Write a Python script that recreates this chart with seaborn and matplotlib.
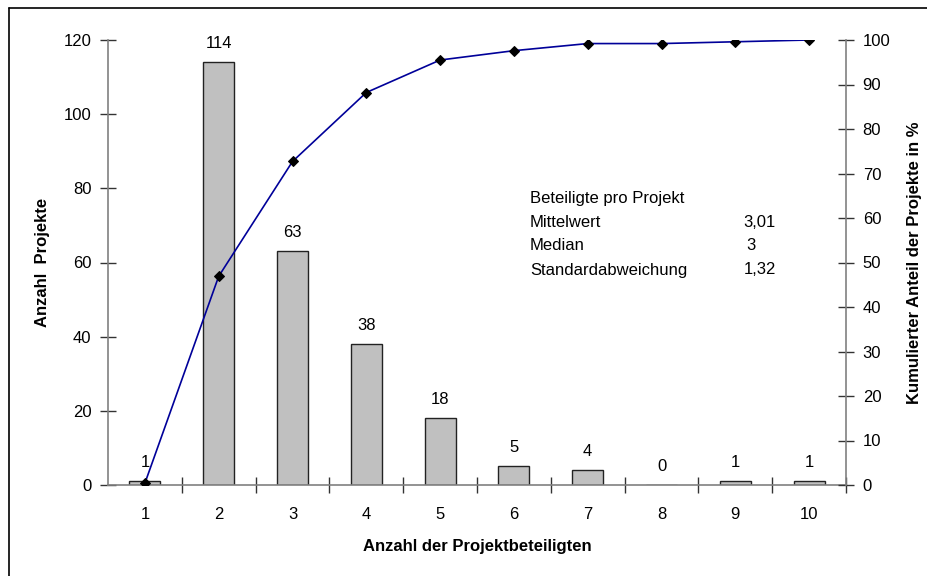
import numpy as np
import pandas as pd
import matplotlib
matplotlib.use("Agg")
import matplotlib.pyplot as plt
import seaborn as sns
from matplotlib.lines import Line2D

# Data
beteiligte = [1, 2, 3, 4, 5, 6, 7, 8, 9, 10]
anzahl_projekte = [1, 114, 63, 38, 18, 5, 4, 0, 1, 1]
kumuliert_pct = [0.4, 46.9, 72.7, 88.2, 95.5, 97.6, 99.2, 99.2, 99.6, 100.0]

stat_labels = ["Mittelwert", "Median", "Standardabweichung"]
stat_values = ["3,01", "3", "1,32"]

sns.set_theme(style="white")
plt.rcParams['font.family'] = ['Liberation Sans', 'DejaVu Sans']
plt.rcParams['text.color'] = 'black'
plt.rcParams['axes.labelcolor'] = 'black'
plt.rcParams['xtick.color'] = 'black'
plt.rcParams['ytick.color'] = 'black'

df = pd.DataFrame({"beteiligte": beteiligte, "anzahl": anzahl_projekte, "kum": kumuliert_pct})

fig = plt.figure(figsize=(9.28, 5.76), dpi=100)
ax = fig.add_axes([108 / 928, 91 / 576, 738 / 928, 445 / 576])

sns.barplot(data=df, x="beteiligte", y="anzahl", ax=ax, color="#c0c0c0",
            edgecolor="#222222", linewidth=1.0, width=0.42, saturation=1)
ax.bar_label(ax.containers[0], labels=[str(v) for v in anzahl_projekte],
             padding=8, fontsize=12)

ax.set_xlim(-0.5, len(beteiligte) - 0.5)
ax.set_ylim(0, 120)
ax.set_yticks(range(0, 121, 20))
ax.set_xticks(range(len(beteiligte)))
ax.set_xticklabels([str(b) for b in beteiligte])
ax.set_xticks(np.arange(len(beteiligte)) + 0.5, minor=True)
ax.tick_params(axis="x", which="major", length=0, pad=16, labelsize=12)
ax.tick_params(axis="x", which="minor", length=12, width=1, color="#333333",
               direction="inout", bottom=True)
ax.tick_params(axis="y", which="major", length=12, width=1, color="#333333",
               direction="inout", left=True, labelsize=12, pad=6)

for side in ["top", "right"]:
    ax.spines[side].set_visible(False)
for side in ["left", "bottom"]:
    ax.spines[side].set_color("#808080")
    ax.spines[side].set_linewidth(1.2)

ax.set_xlabel("Anzahl der Projektbeteiligten", fontsize=12, fontweight="bold", labelpad=12)
ax.set_ylabel("Anzahl  Projekte", fontsize=12, fontweight="bold", labelpad=10)

# cumulative percentage on right axis
ax2 = ax.twinx()
sns.lineplot(x=np.arange(len(beteiligte)), y=kumuliert_pct, ax=ax2, color="#000099",
             linewidth=1.2, marker="D", markersize=5, markerfacecolor="black",
             markeredgecolor="black")
ax2.set_ylim(0, 100)
ax2.set_yticks(range(0, 101, 10))
ax2.tick_params(axis="y", which="major", length=12, width=1, color="#333333",
                direction="inout", right=True, labelsize=12, pad=6)
for side in ["top", "left", "bottom"]:
    ax2.spines[side].set_visible(False)
ax2.spines["right"].set_color("#808080")
ax2.spines["right"].set_linewidth(1.2)
ax2.set_ylabel("Kumulierter Anteil der Projekte in %", fontsize=12,
               fontweight="bold", labelpad=12)

# statistics text box
fig.text(530 / 928, 1 - 198 / 576, "Beteiligte pro Projekt", fontsize=12, va="center")
for i, (lab, val) in enumerate(zip(stat_labels, stat_values)):
    y = 1 - (222 + 24 * i) / 576
    fig.text(530 / 928, y, lab, fontsize=12, va="center")
    if len(val) > 1:
        fig.text(776 / 928, y, val, fontsize=12, va="center", ha="right")
    else:
        fig.text(746 / 928, y, val, fontsize=12, va="center", ha="left")

# outer frame (only left and top edges visible)
fig.lines.append(Line2D([9 / 928, 9 / 928], [0, 1 - 8 / 576], transform=fig.transFigure,
                        color="black", linewidth=1.2))
fig.lines.append(Line2D([9 / 928, 1], [1 - 8 / 576, 1 - 8 / 576], transform=fig.transFigure,
                        color="black", linewidth=1.2))

fig.savefig("out.png", dpi=100)
